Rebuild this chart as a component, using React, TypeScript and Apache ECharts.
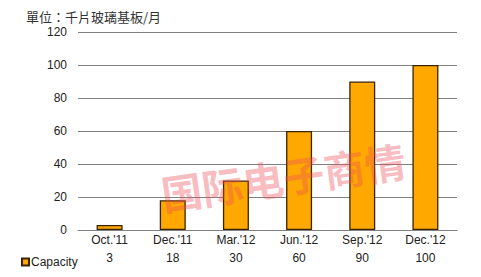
import React, { useEffect, useRef } from "react";
import * as echarts from "echarts";

const categories = ["Oct.'11", "Dec.'11", "Mar.'12", "Jun.'12", "Sep.'12", "Dec.'12"];
const capacity = [3, 18, 30, 60, 90, 100];
const seriesName = "Capacity";
const unitTitle = "單位：千片玻璃基板/月";
const watermark = "国际电子商情";

export default function App() {
  const ref = useRef<HTMLDivElement>(null);
  useEffect(() => {
    if (!ref.current) return;
    const chart = echarts.init(ref.current, null, { renderer: "svg" });
    const font = "Arial, 'Liberation Sans', sans-serif";
    chart.setOption({
      animation: false,
      backgroundColor: "#ffffff",
      textStyle: { fontFamily: font },
      title: {
        text: unitTitle,
        left: 21,
        top: 5,
        textStyle: { fontSize: 13, fontWeight: "normal", color: "#333333", fontFamily: "'Noto Sans CJK TC', sans-serif" },
      },
      legend: {
        data: [seriesName],
        left: 16,
        top: 251,
        icon: "rect",
        itemWidth: 7,
        itemHeight: 7,
        itemGap: 4,
        textStyle: { fontSize: 12, color: "#222222", fontFamily: font, padding: [0, 0, 0, -3] },
      },
      grid: { left: 78, right: 24, top: 32, bottom: 47, containLabel: false },
      xAxis: [
        {
          type: "category",
          data: categories,
          axisLine: { show: true, lineStyle: { color: "#808080", width: 1 } },
          axisTick: { show: false },
          axisLabel: { color: "#222222", fontSize: 12, margin: 4, fontFamily: font },
        },
        {
          type: "category",
          data: capacity.map((v) => String(v)),
          position: "bottom",
          offset: 18,
          axisLine: { show: false },
          axisTick: { show: false },
          axisLabel: { color: "#222222", fontSize: 12, margin: 4, fontFamily: font },
        },
      ],
      yAxis: {
        type: "value",
        min: 0,
        max: 120,
        interval: 20,
        axisLine: { show: false },
        axisTick: { show: false },
        axisLabel: { color: "#222222", fontSize: 12, margin: 11, fontFamily: font },
        splitLine: { lineStyle: { color: "#808080", width: 1 } },
      },
      series: [
        {
          name: seriesName,
          type: "bar",
          data: capacity,
          barWidth: 26,
          itemStyle: { color: "#FFA800", borderColor: "#3a2400", borderWidth: 1.3 },
        },
      ],
      graphic: [
        {
          type: "text",
          x: 283,
          y: 176,
          rotation: 0.14,
          z: 100,
          style: {
            text: watermark,
            fontSize: 41,
            fontWeight: "bold",
            fontFamily: "'Noto Sans CJK SC', sans-serif",
            fill: "rgba(238, 80, 90, 0.38)",
            align: "center",
            verticalAlign: "middle",
          },
        },
      ],
    });
    return () => chart.dispose();
  }, []);
  return (
    <div
      ref={ref}
      style={{ position: "fixed", left: 0, top: 0, width: 481, height: 277 }}
    />
  );
}
